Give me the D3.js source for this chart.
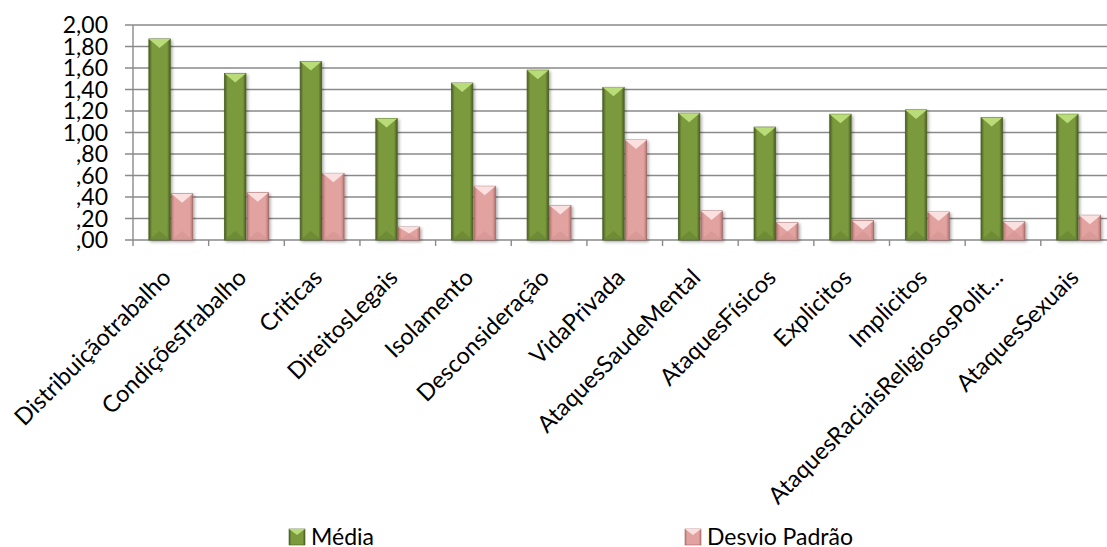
<!DOCTYPE html>
<html>
<head>
<meta charset="utf-8">
<script src="https://cdn.jsdelivr.net/npm/d3@7"></script>
<style>
  html, body { margin: 0; padding: 0; background: #fff; }
  svg { display: block; font-family: Lato, "Open Sans", sans-serif; }
</style>
</head>
<body>
<svg id="chart" width="1107" height="547"></svg>
<script>
// Categories and series values
const categories = [
  "Distribuiçãotrabalho", "CondiçõesTrabalho", "Criticas", "DireitosLegais",
  "Isolamento", "Desconsideração", "VidaPrivada", "AtaquesSaudeMental",
  "AtaquesFísicos", "Explicitos", "Implicitos", "AtaquesRaciaisReligiososPolit…",
  "AtaquesSexuais"
];
const seriesNames = ["Média", "Desvio Padrão"];
const media = [1.87, 1.55, 1.66, 1.13, 1.46, 1.58, 1.42, 1.18, 1.05, 1.17, 1.21, 1.14, 1.17];
const desvio = [0.43, 0.44, 0.62, 0.12, 0.50, 0.32, 0.93, 0.27, 0.16, 0.18, 0.26, 0.17, 0.23];
const yTicks = [0, 0.2, 0.4, 0.6, 0.8, 1.0, 1.2, 1.4, 1.6, 1.8, 2.0];

const svg = d3.select("#chart");
const plotLeft = 133, plotTop = 25, plotBottom = 240;
const step = 75.65;

const x = d3.scaleBand().domain(categories).range([plotLeft, plotLeft + step * categories.length]).padding(0);
const y = d3.scaleLinear().domain([0, 2]).range([plotBottom, plotTop]);
const bw = x.bandwidth();
const groupW = bw * 0.58;
const xs = d3.scaleBand().domain(seriesNames).range([(bw - groupW) / 2, (bw + groupW) / 2]).paddingInner(0.05);

const fmt = v => {
  const s = v.toFixed(2).replace(".", ",");
  return s.startsWith("0") ? s.slice(1) : s;
};

// Gradients for the bevelled bars
const defs = svg.append("defs");
const palettes = {
  "Média":        { edge: "#4a5e22", mid: "#7a9a3c", light: "#b9dc78", base: "#66822f", stroke: "#4b5f24" },
  "Desvio Padrão":{ edge: "#b87876", mid: "#e2a2a0", light: "#fbe0e0", base: "#d39290", stroke: "#a06664" }
};
seriesNames.forEach((s, i) => {
  const p = palettes[s];
  const g = defs.append("linearGradient").attr("id", "grad" + i).attr("x1", 0).attr("x2", 1).attr("y1", 0).attr("y2", 0);
  g.append("stop").attr("offset", 0).attr("stop-color", p.edge);
  g.append("stop").attr("offset", 0.15).attr("stop-color", p.mid);
  g.append("stop").attr("offset", 0.85).attr("stop-color", p.mid);
  g.append("stop").attr("offset", 1).attr("stop-color", p.edge);
});
const sh = defs.append("filter").attr("id", "shadow").attr("x", "-20%").attr("y", "-20%").attr("width", "150%").attr("height", "150%");
sh.append("feDropShadow").attr("dx", 1.5).attr("dy", 1.5).attr("stdDeviation", 1.5).attr("flood-color", "#000").attr("flood-opacity", 0.35);

// Gridlines
svg.append("g").selectAll("line").data(yTicks).join("line")
  .attr("x1", plotLeft - 8).attr("x2", 1107)
  .attr("y1", d => y(d)).attr("y2", d => y(d))
  .attr("stroke", "#8a8a8a").attr("stroke-width", 1.4);

// Y axis line
svg.append("line").attr("x1", plotLeft).attr("x2", plotLeft).attr("y1", plotTop).attr("y2", plotBottom)
  .attr("stroke", "#8a8a8a").attr("stroke-width", 1.4);

// Category tick marks
svg.append("g").selectAll("line").data(categories).join("line")
  .attr("x1", d => x(d)).attr("x2", d => x(d))
  .attr("y1", plotBottom).attr("y2", plotBottom + 6)
  .attr("stroke", "#8a8a8a").attr("stroke-width", 1.4);

// Y tick labels
svg.append("g").selectAll("text").data(yTicks).join("text")
  .attr("x", 108).attr("y", d => y(d)).attr("dy", "0.36em")
  .attr("text-anchor", "end").attr("font-size", 23).attr("fill", "#000")
  .text(fmt);

// Bars
const rows = categories.map((c, i) => ({ c, vals: [media[i], desvio[i]] }));
const groups = svg.append("g").selectAll("g").data(rows).join("g")
  .attr("transform", d => `translate(${x(d.c)},0)`);

groups.each(function(d) {
  const g = d3.select(this);
  d.vals.forEach((v, si) => {
    const s = seriesNames[si];
    const p = palettes[s];
    const bx = xs(s), w = xs.bandwidth();
    const yt = y(v), h = y(0) - yt;
    const bev = Math.min(9, h / 2);
    const bar = g.append("g").attr("filter", "url(#shadow)");
    bar.append("rect").attr("x", bx).attr("y", yt).attr("width", w).attr("height", h)
      .attr("fill", `url(#grad${si})`).attr("stroke", p.stroke).attr("stroke-width", 0.8);
    bar.append("polygon")
      .attr("points", `${bx},${yt} ${bx + w},${yt} ${bx + w / 2},${yt + bev}`)
      .attr("fill", p.light);
    bar.append("polygon")
      .attr("points", `${bx},${y(0)} ${bx + w},${y(0)} ${bx + w / 2},${y(0) - bev}`)
      .attr("fill", p.base).attr("opacity", 0.6);
  });
});

// Rotated category labels
svg.append("g").selectAll("text").data(categories).join("text")
  .attr("transform", d => `translate(${x(d) + bw / 2 + 1.5},${plotBottom + 39}) rotate(-45)`)
  .attr("text-anchor", "end")
  .attr("font-size", 23.5).attr("fill", "#000")
  .text(d => d);

// Legend
const legendX = [289, 685];
const leg = svg.append("g").selectAll("g").data(seriesNames).join("g")
  .attr("transform", (d, i) => `translate(${legendX[i]},529)`);
leg.append("rect").attr("width", 16).attr("height", 16)
  .attr("fill", (d, i) => `url(#grad${i})`).attr("stroke", d => palettes[d].stroke).attr("stroke-width", 0.6);
leg.append("polygon").attr("points", "0,0 16,0 8,6").attr("fill", d => palettes[d].light);
leg.append("text").attr("x", 22).attr("y", 16).attr("font-size", 23).attr("fill", "#000").text(d => d);
</script>
</body>
</html>
